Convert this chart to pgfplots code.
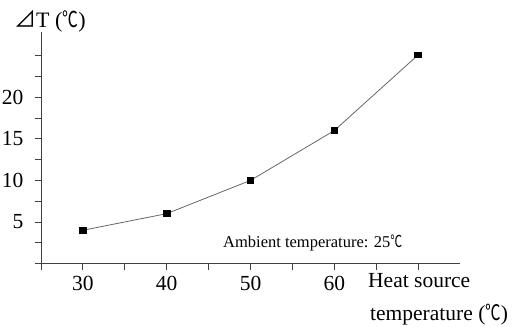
\documentclass[border=0pt]{standalone}
\usepackage{pgfplots}
\pgfplotsset{compat=1.18}
\usepackage{graphicx}
\usepackage{fontspec}
\setmainfont{Liberation Serif}
\newfontfamily\cjk{Noto Sans CJK SC}
\newcommand{\degC}{\scalebox{0.72}[1]{\cjk ℃}}
\begin{document}
\begin{tikzpicture}
\begin{axis}[
  at={(0,0)}, anchor=south west,
  scale only axis, width=419bp, height=231bp,
  xmin=25, xmax=75, ymin=0, ymax=27.8,
  axis x line=bottom, axis y line=left,
  axis line style={-, black!75, line width=0.9pt},
  xtick={30,40,50,60}, minor xtick={25,35,45,55,65,70},
  ytick={5,10,15,20}, minor ytick={0,2.5,7.5,12.5,17.5,22.5,25},
  tick align=outside, major tick length=6bp, minor tick length=6bp,
  every tick/.style={black!75, line width=0.9pt},
  /pgf/number format/assume math mode=true,
  ticklabel style={font=\fontsize{21.5bp}{24bp}\selectfont},
  xticklabel style={yshift=-3bp},
  yticklabel style={xshift=-8bp},
  clip=false,
]
\addplot[color=black!60, line width=0.8pt, mark=square*, mark size=2.8bp,
  mark options={fill=black, draw=black, xscale=1.2}]
  coordinates {(30,4) (40,6) (50,10) (60,16) (70,25.1)};
\end{axis}
\node[anchor=base west, font=\fontsize{22bp}{24bp}\selectfont, inner sep=0pt] at (-27bp,235.5bp) {{\cjk ⊿}T (\degC)};
\node[anchor=base west, font=\fontsize{21.5bp}{24bp}\selectfont, inner sep=0pt] at (327bp,-23.5bp) {Heat source};
\node[anchor=base west, font=\fontsize{21.5bp}{24bp}\selectfont, inner sep=0pt] at (329bp,-56.5bp) {temperature (\degC)};
\node[anchor=base west, font=\fontsize{16.5bp}{18bp}\selectfont, inner sep=0pt] at (182bp,16.5bp) {Ambient temperature: 25\degC};
\pgfresetboundingbox
\path[use as bounding box] (-41bp,-63.5bp) rectangle (475bp,263.5bp);
\end{tikzpicture}
\end{document}
